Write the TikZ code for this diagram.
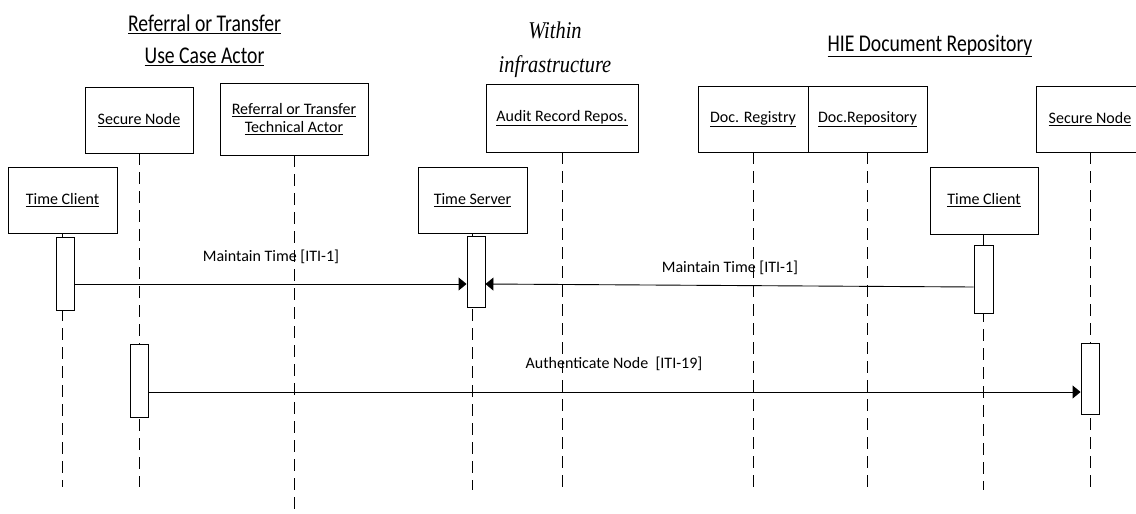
\documentclass[tikz,border=0pt]{standalone}
\usepackage{fontspec}
\setmainfont{Carlito}
\newfontfamily\titlefont[FakeStretch=0.82]{Carlito}
\newfontfamily\serifit[FakeStretch=0.85]{Liberation Serif Italic}
\usetikzlibrary{arrows.meta}
\begin{document}
\begin{tikzpicture}[x=1pt,y=-1pt,
  box/.style={draw, line width=0.9pt, fill=white, inner sep=0pt, font=\fontsize{16}{18.5}\selectfont, align=center},
  bar/.style={draw, line width=0.9pt, fill=white, minimum width=18, minimum height=72, inner sep=0pt},
  life/.style={line width=0.8pt, dash pattern=on 12pt off 7pt},
  msg/.style={line width=0.9pt, -{Triangle[length=8pt,width=13pt]}},
  lbl/.style={font=\fontsize{16}{18}\selectfont, inner sep=0pt},
  title/.style={font=\titlefont\fontsize{24}{32}\selectfont, align=center, inner sep=0pt},
  itl/.style={font=\serifit\fontsize{24}{34}\selectfont, align=center, inner sep=0pt}]
\useasboundingbox (0,0) rectangle (1136,514);

% titles
\node[title] (t1) at (204.5,40) {\underline{Referral or Transfer}\\\underline{Use Case Actor}};
\node[itl] (t2) at (555,50) {Within\\infrastructure};
\node[title] (t3) at (930,46) {\underline{HIE Document Repository}};

% actor boxes
\node[box, minimum width=108, minimum height=66] (sn1) at (139,120) {\underline{Secure Node}};
\node[box, minimum width=148, minimum height=72] (rt) at (294,119) {\underline{Referral or Transfer}\\\underline{Technical Actor}};
\node[box, minimum width=109, minimum height=66] (tc1) at (62.5,200) {\underline{Time Client}};
\node[box, minimum width=109, minimum height=66] (ts) at (472.5,200) {\underline{Time Server}};
\node[box, minimum width=152, minimum height=68] (ar) at (562,118) {\underline{Audit Record Repos.}};
\node[box, minimum width=110, minimum height=66] (dr) at (753,119) {\underline{Doc. Registry}};
\node[box, minimum width=119, minimum height=66] (dp) at (867.5,119) {\underline{Doc.Repository}};
\node[box, minimum width=108, minimum height=67] (tc2) at (984,200.5) {\underline{Time Client}};
\node[box, minimum width=108, minimum height=66] (sn2) at (1090,119) {\underline{Secure Node}};

% lifeline ends
\coordinate (e1) at (139,487);
\coordinate (e2) at (294,514);
\coordinate (e3) at (62.5,487);
\coordinate (e4) at (472,490);
\coordinate (e5) at (562,487);
\coordinate (e6) at (753,487);
\coordinate (e7) at (867.5,487);
\coordinate (e8) at (983.5,490);
\coordinate (e9) at (1090,487);

\draw[life] (sn1.south) -- (e1);
\draw[life] (rt.south) -- (e2);
\draw[life] (tc1.south) -- (e3);
\draw[life] (ts.south -| e4) -- (e4);
\draw[life] (ar.south) -- (e5);
\draw[life] (dr.south) -- (e6);
\draw[life] (dp.south) -- (e7);
\draw[life] (tc2.south -| e8) -- (e8);
\draw[life] (sn2.south) -- (e9);

% activation bars
\node[bar, minimum width=17.6, minimum height=73] (b1) at (65.5,273.5) {};
\node[bar, minimum height=71] (b2) at (476,271.5) {};
\node[bar, minimum width=19, minimum height=68] (b3) at (983.5,279) {};
\node[bar, minimum height=73] (b4) at (139,380.5) {};
\node[bar, minimum height=71] (b5) at (1090,378.5) {};

% messages
\coordinate (m1) at (0,284);
\coordinate (m2) at (0,287);
\coordinate (m3) at (0,392);
\draw[msg] (b1.east |- m1) -- (b2.west |- m1);
\draw[msg] (b3.west |- m2) -- (b2.east |- m1);
\draw[msg] (b4.east |- m3) -- (b5.west |- m3);

\node[lbl] (l1) at (271,257) {Maintain Time [ITI-1]};
\node[lbl] (l2) at (730,268) {Maintain Time [ITI-1]};
\node[lbl] (l3) at (614,364) {Authenticate Node\ \ [ITI-19]};
\end{tikzpicture}
\end{document}
